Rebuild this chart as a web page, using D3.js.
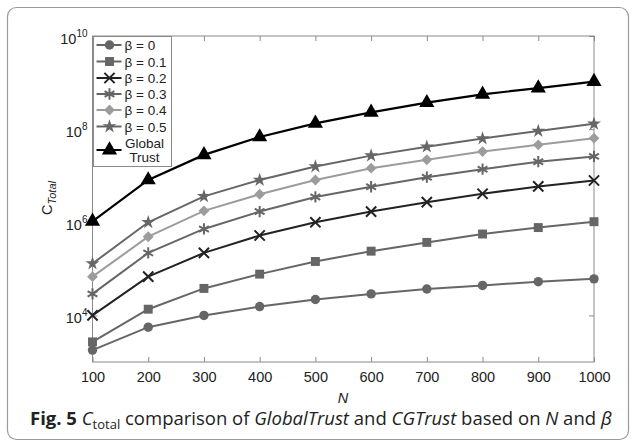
<!DOCTYPE html>
<html>
<head>
<meta charset="utf-8">
<script src="https://cdn.jsdelivr.net/npm/d3@7"></script>
<style>
  body { margin: 0; background: #fff; }
  text { font-family: "Liberation Sans", Arial, sans-serif; fill: #222; }
</style>
</head>
<body>
<div id="chart"></div>
<script>
// data
var nValues = [100, 200, 300, 400, 500, 600, 700, 800, 900, 1000];
var beta0   = [1.8e3, 5.6e3, 1.0e4, 1.55e4, 2.2e4, 2.9e4, 3.7e4, 4.4e4, 5.3e4, 6.1e4];
var beta01  = [2.7e3, 1.36e4, 3.8e4, 7.7e4, 1.44e5, 2.4e5, 3.7e5, 5.6e5, 7.7e5, 1.03e6];
var beta02  = [1.0e4, 6.8e4, 2.2e5, 5.2e5, 1.0e6, 1.7e6, 2.7e6, 4.1e6, 5.9e6, 7.9e6];
var beta03  = [2.9e4, 2.2e5, 7.2e5, 1.7e6, 3.5e6, 5.8e6, 9.3e6, 1.38e7, 2.0e7, 2.6e7];
var beta04  = [6.8e4, 4.9e5, 1.76e6, 4.0e6, 8.1e6, 1.45e7, 2.2e7, 3.3e7, 4.6e7, 6.4e7];
var beta05  = [1.3e5, 1.0e6, 3.6e6, 8.1e6, 1.58e7, 2.7e7, 4.2e7, 6.3e7, 9.1e7, 1.3e8];
var globalTrust = [1.05e6, 8.1e6, 2.8e7, 6.8e7, 1.33e8, 2.3e8, 3.7e8, 5.6e8, 7.6e8, 1.05e9];
var seriesNames = ["\u03b2 = 0", "\u03b2 = 0.1", "\u03b2 = 0.2", "\u03b2 = 0.3", "\u03b2 = 0.4", "\u03b2 = 0.5", "Global Trust"];
var xTicks = [100, 200, 300, 400, 500, 600, 700, 800, 900, 1000];
var yTickExps = [4, 6, 8, 10];

var W = 636, H = 446;
var margin = {top: 36, left: 92.5};
var width = 594 - margin.left, height = 362 - margin.top;

var svg = d3.select("#chart").append("svg")
    .attr("width", W).attr("height", H);

// outer frame
svg.append("rect")
    .attr("x", 7.5).attr("y", 7.5).attr("width", 621).attr("height", 432)
    .attr("rx", 9).attr("fill", "none").attr("stroke", "#9a9a9a").attr("stroke-width", 1.2);

var g = svg.append("g").attr("transform", "translate(" + margin.left + "," + margin.top + ")");

var x = d3.scaleLinear().domain([100, 1000]).range([0, width]);
var y = d3.scaleLog().domain([1e3, 1e10]).range([height, 0]);

// plot box
g.append("rect").attr("width", width).attr("height", height)
    .attr("fill", "#fff").attr("stroke", "#8a8a8a").attr("stroke-width", 1);

// axes (ticks inward, on both sides like matlab)
var axB = g.append("g").attr("transform", "translate(0," + height + ")")
    .call(d3.axisBottom(x).tickValues(xTicks).tickFormat(d3.format("d"))
      .tickSizeInner(-5).tickSizeOuter(0).tickPadding(10));
var axT = g.append("g")
    .call(d3.axisTop(x).tickValues(xTicks).tickSizeInner(-5).tickSizeOuter(0).tickFormat(""));
var axL = g.append("g")
    .call(d3.axisLeft(y).tickValues(yTickExps.map(function(e) { return Math.pow(10, e); }))
      .tickSizeInner(-5).tickSizeOuter(0).tickFormat(""));
var axR = g.append("g").attr("transform", "translate(" + width + ",0)")
    .call(d3.axisRight(y).tickValues(yTickExps.map(function(e) { return Math.pow(10, e); }))
      .tickSizeInner(-5).tickSizeOuter(0).tickFormat(""));
[axB, axT, axL, axR].forEach(function(a) {
  a.select(".domain").remove();
  a.selectAll("line").attr("stroke", "#8a8a8a");
});
axB.selectAll("text").attr("font-size", 14.5).attr("fill", "#222")
    .attr("font-family", "Liberation Sans, Arial, sans-serif");

// y tick labels 10^n
yTickExps.forEach(function(e) {
  var t = g.append("text")
      .attr("x", -5).attr("y", y(Math.pow(10, e)) + 8)
      .attr("text-anchor", "end").attr("font-size", 14.5);
  t.append("tspan").text("10");
  t.append("tspan").attr("dy", -7).attr("font-size", 10).text(e);
});

// axis titles
svg.append("text").attr("x", 343).attr("y", 403).attr("text-anchor", "middle")
    .attr("font-size", 14.5).attr("font-style", "italic").text("N");
var yl = svg.append("text").attr("transform", "translate(52,198) rotate(-90)")
    .attr("text-anchor", "middle").attr("font-size", 14.5);
yl.append("tspan").text("C");
yl.append("tspan").attr("dy", 4).attr("font-size", 11).attr("font-style", "italic").text("Total");

// series
var seriesData = [beta0, beta01, beta02, beta03, beta04, beta05, globalTrust];
var colors = ["#666", "#666", "#222", "#666", "#9c9c9c", "#666", "#000"];
var symTypes = [d3.symbolCircle, d3.symbolSquare, d3.symbolTimes || d3.symbolCross,
                d3.symbolAsterisk || d3.symbolCross, d3.symbolDiamond2 || d3.symbolDiamond,
                d3.symbolStar, d3.symbolTriangle];
var symSizes = [70, 80, 70, 90, 75, 60, 100];
var stroked = [false, false, true, true, false, false, false];

var line = d3.line()
    .x(function(d, i) { return x(nValues[i]); })
    .y(function(d) { return y(d); });

function drawMarker(sel, k) {
  var p = sel.append("path").attr("d", d3.symbol().type(symTypes[k]).size(symSizes[k])());
  if (stroked[k]) p.attr("fill", "none").attr("stroke", colors[k]).attr("stroke-width", 2);
  else p.attr("fill", colors[k]);
  return p;
}

seriesData.forEach(function(vals, k) {
  g.append("path").datum(vals)
      .attr("d", line).attr("fill", "none")
      .attr("stroke", colors[k]).attr("stroke-width", k === 6 ? 2.2 : 2);
  g.append("g").selectAll("g").data(vals).enter().append("g")
      .attr("transform", function(d, i) { return "translate(" + x(nValues[i]) + "," + y(d) + ")"; })
      .each(function() { drawMarker(d3.select(this), k); });
});

// legend
var leg = svg.append("g").attr("transform", "translate(93.5,36.5)");
leg.append("rect").attr("width", 78).attr("height", 130)
    .attr("fill", "#fff").attr("stroke", "#8a8a8a").attr("stroke-width", 1);
var legY = [8.5, 25, 41.5, 57.5, 73.5, 90, 113.5];
seriesNames.forEach(function(name, k) {
  var row = leg.append("g").attr("transform", "translate(0," + legY[k] + ")");
  row.append("line").attr("x1", 3).attr("x2", 28).attr("y1", 0).attr("y2", 0)
      .attr("stroke", colors[k]).attr("stroke-width", 2);
  var m = row.append("g").attr("transform", "translate(16,0)");
  drawMarker(m, k);
  if (k < 6) {
    row.append("text").attr("x", 31).attr("y", 5).attr("font-size", 13.5).text(name);
  } else {
    row.append("text").attr("x", 51).attr("y", -2).attr("text-anchor", "middle")
        .attr("font-size", 13.5).text("Global");
    row.append("text").attr("x", 51).attr("y", 12).attr("text-anchor", "middle")
        .attr("font-size", 13.5).text("Trust");
  }
});

// caption
var cap = svg.append("text").attr("x", 30).attr("y", 425)
    .attr("font-size", 18.5).attr("fill", "#222")
    .style("font-family", "'Open Sans', sans-serif");
cap.append("tspan").attr("font-weight", "bold").text("Fig. 5 ");
cap.append("tspan").attr("font-style", "italic").text("C");
cap.append("tspan").attr("dy", 4).attr("font-size", 13).text("total");
cap.append("tspan").attr("dy", -4).text(" comparison of ");
cap.append("tspan").attr("font-style", "italic").text("GlobalTrust");
cap.append("tspan").text(" and ");
cap.append("tspan").attr("font-style", "italic").text("CGTrust");
cap.append("tspan").text(" based on ");
cap.append("tspan").attr("font-style", "italic").text("N");
cap.append("tspan").text(" and ");
cap.append("tspan").attr("font-style", "italic").text("\u03b2");
</script>
</body>
</html>
